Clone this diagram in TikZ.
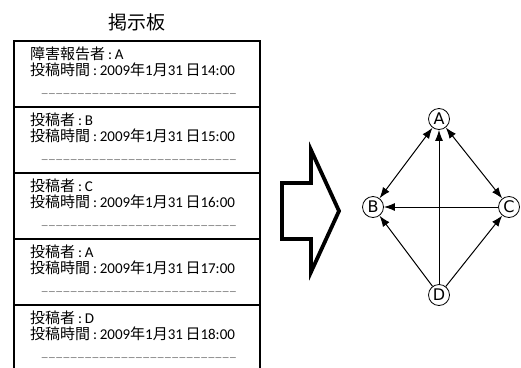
\documentclass[tikz,border=0pt]{standalone}
\usepackage{fontspec}
\setmainfont{Carlito}
\newfontfamily\jpfont{Noto Sans CJK JP}
\newfontfamily\vfont{DejaVu Sans}
\newcommand\jp[1]{{\jpfont #1}}
\newcommand\colsep{\kern2.8pt:\kern2.8pt}
\usetikzlibrary{arrows.meta}
\tikzset{
  board/.style={draw, line width=2.5pt},
  post/.style={anchor=base west, inner sep=0pt, font=\fontsize{15}{15}\selectfont},
  dashes/.style={anchor=center, inner sep=0pt, font=\fontsize{8}{8}\selectfont, text=black!85},
  vert/.style={draw, circle, minimum size=21pt, inner sep=0pt, line width=0.8pt, font=\vfont\fontsize{16}{16}\selectfont},
  edge/.style={line width=1pt, -{Latex[length=11pt,width=8pt]}},
  bedge/.style={line width=1pt, {Latex[length=11pt,width=8pt]}-{Latex[length=11pt,width=8pt]}},
}
\begin{document}
\begin{tikzpicture}[x=1pt,y=-1pt]
\useasboundingbox (0,0) rectangle (521,367);
\node[font=\jpfont\fontsize{19}{19}\selectfont] (title) at (137,22) {掲示板};
% board entries
\foreach \top in {41,107,173,239,305}{
  \draw[board] (14,\top) rectangle (260,\top+66);
}
\foreach \top/\who/\name/\hour [count=\i] in {41/障害報告者/A/14,107/投稿者/B/15,173/投稿者/C/16,239/投稿者/A/17,305/投稿者/D/18}{
  \node[post] (w\i) at (30,\top+18.5) {\jp{\who}\colsep\name};
  \node[post] (t\i) at (30,\top+34) {\jp{投稿時間}\colsep 2009\jp{年}1\jp{月}31\kern2.5pt\jp{日}\hour:00};
  \node[dashes] (d\i) at (139,\top+54) {---------------------------------------------------------------------------------};
}
% block arrow
\draw[line width=3.8pt, line join=miter] (282,183) -- (311,183) -- (311,150) -- (339,211) -- (311,272) -- (311,239) -- (282,239) -- cycle;
% graph
\node[vert] (A) at (439,119) {A};
\node[vert] (B) at (373,207) {B};
\node[vert] (C) at (509,207) {C};
\node[vert] (D) at (439,295) {D};
\draw[bedge] (B) -- (A);
\draw[bedge] (C) -- (A);
\draw[edge] (D) -- (A);
\draw[edge] (C) -- (B);
\draw[edge] (D) -- (B);
\draw[edge] (D) -- (C);
\end{tikzpicture}
\end{document}
